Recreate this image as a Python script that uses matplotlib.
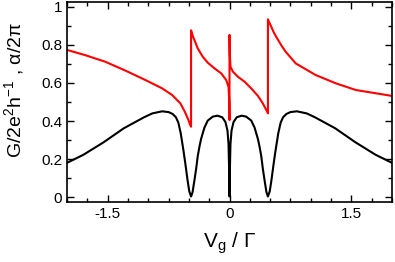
import matplotlib
matplotlib.use("Agg")
import matplotlib.pyplot as plt
from matplotlib.ticker import MultipleLocator, FuncFormatter

# Conductance G/(2e^2/h)
g_x = [-2.0, -1.8, -1.55, -1.3, -1.05, -0.95, -0.83, -0.75, -0.70, -0.66, -0.63, -0.60,
       -0.565, -0.54, -0.515, -0.495, -0.473, -0.455, -0.432, -0.41, -0.391, -0.37, -0.35,
       -0.309, -0.268, -0.206, -0.15, -0.09, -0.05, -0.025, -0.012, -0.005, 0.0,
       0.005, 0.012, 0.025, 0.05, 0.09, 0.15, 0.206, 0.268, 0.309, 0.35, 0.37, 0.391, 0.41,
       0.432, 0.455, 0.473, 0.495, 0.515, 0.54, 0.565, 0.60, 0.63, 0.66, 0.70, 0.75, 0.83,
       0.95, 1.05, 1.3, 1.55, 1.8, 2.0]
g_y = [0.180, 0.222, 0.288, 0.362, 0.420, 0.440, 0.451, 0.447, 0.437, 0.420, 0.392, 0.335,
       0.240, 0.165, 0.085, 0.030, 0.003, 0.025, 0.087, 0.150, 0.215, 0.265, 0.305,
       0.365, 0.402, 0.423, 0.428, 0.420, 0.395, 0.350, 0.280, 0.150, 0.003,
       0.150, 0.280, 0.350, 0.395, 0.420, 0.428, 0.423, 0.402, 0.365, 0.305, 0.265, 0.215, 0.150,
       0.087, 0.025, 0.003, 0.030, 0.085, 0.165, 0.240, 0.335, 0.392, 0.420, 0.437, 0.447, 0.451,
       0.440, 0.420, 0.362, 0.288, 0.222, 0.180]

# Phase alpha/2pi
a_x = [-2.0, -1.78, -1.53, -1.28, -1.037, -0.83, -0.707, -0.605, -0.55, -0.51, -0.485,
       -0.473, -0.473, -0.45, -0.432, -0.391, -0.329, -0.268, -0.185, -0.103, -0.041,
       -0.012, -0.003, 0.0, 0.0, 0.004, 0.012, 0.041, 0.103, 0.185, 0.267, 0.35, 0.41, 0.45,
       0.465, 0.473, 0.473, 0.49, 0.514, 0.545, 0.576, 0.638, 0.69, 0.815, 1.06, 1.31, 1.556,
       1.80, 2.0]
a_y = [0.774, 0.747, 0.712, 0.665, 0.616, 0.572, 0.537, 0.493, 0.449, 0.410, 0.380,
       0.370, 0.877, 0.845, 0.826, 0.782, 0.738, 0.707, 0.677, 0.651, 0.616,
       0.580, 0.500, 0.405, 0.853, 0.750, 0.686, 0.660, 0.633, 0.607, 0.572, 0.532, 0.493, 0.460,
       0.449, 0.440, 0.935, 0.918, 0.896, 0.866, 0.842, 0.798, 0.765, 0.703, 0.642, 0.598, 0.563,
       0.546, 0.532]

plt.rcParams['font.family'] = ['Liberation Sans', 'DejaVu Sans']
plt.rcParams['mathtext.fontset'] = 'custom'
plt.rcParams['mathtext.rm'] = 'Liberation Sans'
plt.rcParams['mathtext.it'] = 'Liberation Sans'
plt.rcParams['mathtext.default'] = 'regular'

fig = plt.figure(figsize=(3.95, 2.62), dpi=100)
ax = fig.add_axes([67/395, 1-202/262, 325/395, 200/262])

ax.plot(g_x, g_y, color='black', lw=1.5)
ax.plot(a_x, a_y, color='#ff0000', lw=1.5)

ax.set_xlim(-2.0, 2.0)
ax.set_ylim(-0.026, 1.026)
ax.xaxis.set_major_locator(MultipleLocator(1.5))
ax.xaxis.set_minor_locator(MultipleLocator(0.25))
ax.yaxis.set_major_locator(MultipleLocator(0.2))
ax.yaxis.set_minor_locator(MultipleLocator(0.1))
ax.xaxis.set_major_formatter(FuncFormatter(lambda v, p: '%g' % round(v, 2)))
ax.yaxis.set_major_formatter(FuncFormatter(lambda v, p: '%g' % round(v, 2)))
ax.tick_params(which='both', direction='in', top=True, right=True, labelsize=11, width=1.0)
ax.tick_params(which='major', length=5)
ax.tick_params(which='minor', length=3)
for s in ax.spines.values():
    s.set_linewidth(1.2)

ax.set_xlabel('V$_g$ / Γ', fontsize=15, labelpad=7)
ax.set_ylabel('G/2e$^2$h$^{-1}$ , α/2π', fontsize=14)
ax.yaxis.set_label_coords(-0.125, 0.56)

fig.savefig('out.png', dpi=100)
